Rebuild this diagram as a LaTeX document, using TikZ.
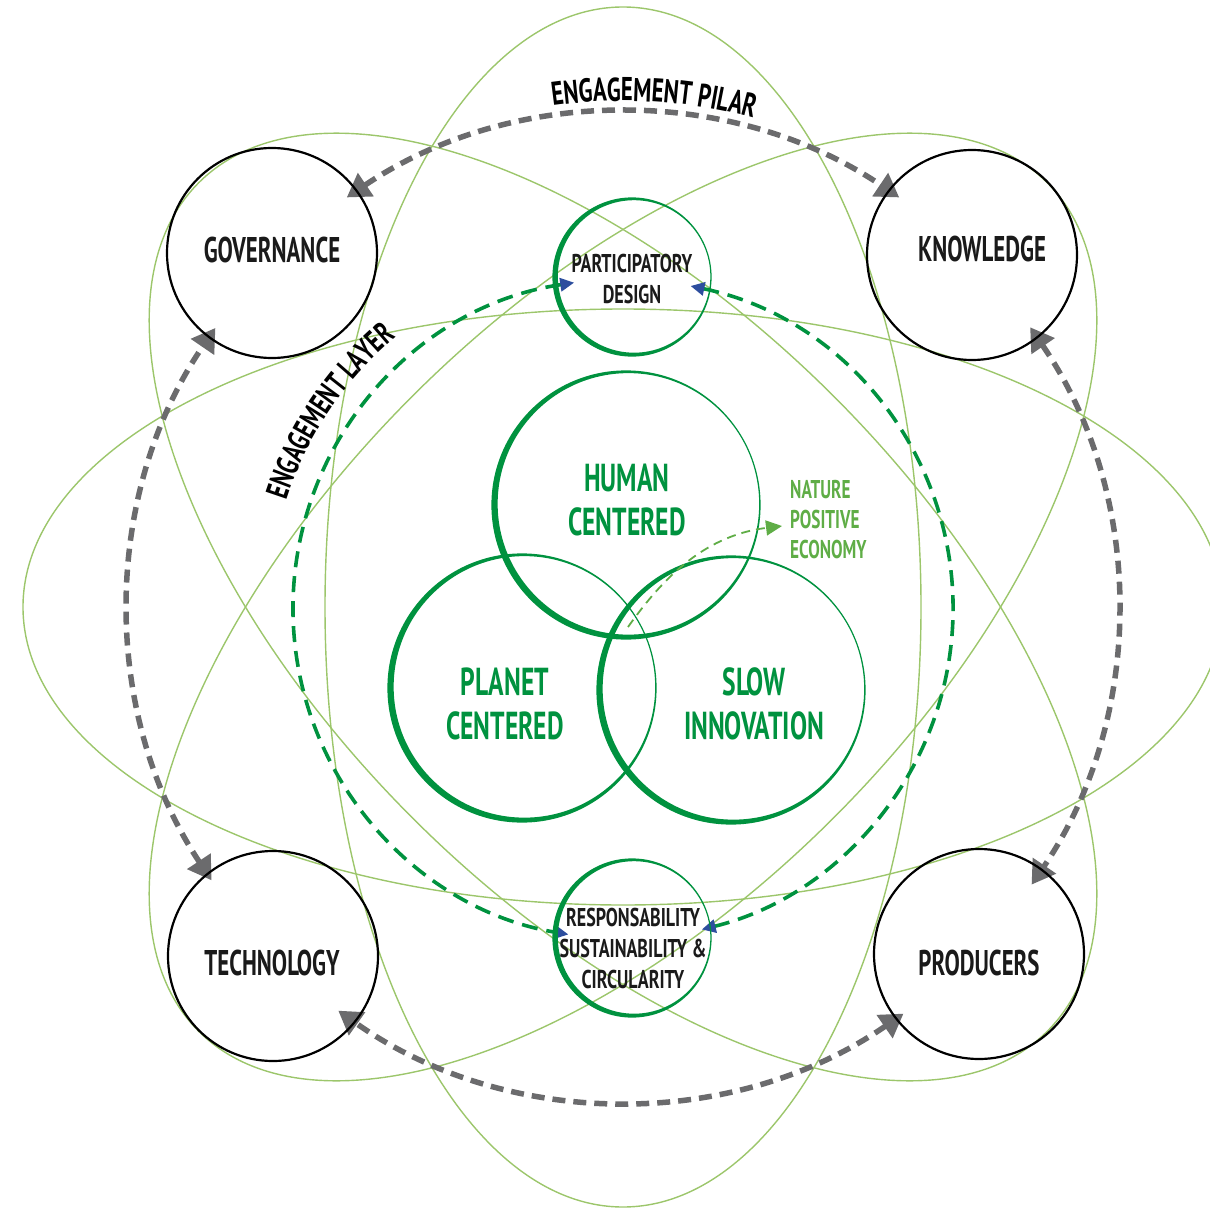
\documentclass[tikz,border=0pt]{standalone}
\usepackage{fontspec}
\setmainfont{PT Sans}
\newfontfamily\condA{PT Sans Bold}[FakeStretch=0.64]
\newfontfamily\condV{PT Sans Bold}[FakeStretch=0.655]
\newfontfamily\condS{PT Sans Bold}[FakeStretch=0.70]
\newfontfamily\condN{PT Sans Bold}[FakeStretch=0.67]
\newfontfamily\condE{PT Sans Bold}[FakeStretch=0.69]
\usetikzlibrary{arrows.meta,decorations.text}
\definecolor{lgreen}{HTML}{9CC66B}
\definecolor{dgreen}{HTML}{00923F}
\definecolor{ngreen}{HTML}{5FAD46}
\definecolor{pgray}{HTML}{6B6B6D}
\definecolor{ablue}{HTML}{2D4E9E}
\definecolor{ink}{HTML}{1A1A1A}
\newcommand{\fcirc}{\condA\fontsize{35.7}{40}\selectfont}
\newcommand{\fvenn}{\condV\fontsize{39}{44}\selectfont}
\newcommand{\fsmall}{\condS\fontsize{25.7}{31}\selectfont}
\newcommand{\fnat}{\condN\fontsize{25.7}{30}\selectfont}
\newcommand{\fpilar}{\condE\fontsize{33}{36}\selectfont}
\newcommand{\flayer}{\condE\fontsize{31.5}{34}\selectfont}
\newcommand{\brushring}[5]{%
  \fill[dgreen,even odd rule] (#1) circle[radius={#2+#4/2}]
    ([shift={(#5:{(#3-#4)/2})}]#1) circle[radius={#2-#4/2-(#3-#4)/2}];}
\begin{document}
\begin{tikzpicture}[x=1pt,y=-1pt,
  ell/.style={draw=lgreen,line width=1.4pt},
  hub/.style={circle,draw=black,line width=2.2pt,minimum size=210pt,inner sep=0pt},
  hubtext/.style={font=\fcirc,text=ink,inner sep=0pt},
  venntext/.style={font=\fvenn,text=dgreen,align=center,inner sep=0pt},
  smalltext/.style={font=\fsmall,text=ink,align=center,inner sep=0pt},
  nattext/.style={font=\fnat,text=ngreen,align=left,inner sep=8pt,anchor=west},
  pilar/.style={draw=pgray,line width=5.5pt,dash pattern=on 13pt off 8pt,
     {Triangle[length=23pt,width=27pt]}-{Triangle[length=23pt,width=27pt]}},
  layer/.style={draw=dgreen,line width=3.6pt,dash pattern=on 16pt off 9pt,
     {Triangle[color=ablue,length=14pt,width=13pt]}-{Triangle[color=ablue,length=14pt,width=13pt]}},
  natarrow/.style={draw=ngreen,line width=1.8pt,dash pattern=on 9pt off 6pt,
     -{Triangle[length=16pt,width=15pt]}},
]
\useasboundingbox (0,0) rectangle (1210,1209);
\clip (0,0) rectangle (1210,1209);
\coordinate (ctr) at (623,607);
\coordinate (lay) at (623,609);

% orbit ellipses
\foreach \a in {0,45,90,135}
  \draw[ell,rotate around={\a:(ctr)}] (ctr) ellipse[x radius=600,y radius=298];

% engagement layer (green dashed)
\draw[layer] (lay) ++(261.5:330) arc[start angle=261.5,end angle=99.5,radius=330];
\draw[layer] (lay) ++(-78.2:330) arc[start angle=-78.2,end angle=76.2,radius=330];

% engagement pilar (grey dashed)
\draw[pilar] (ctr) ++(-124:494) arc[start angle=-124,end angle=-56,radius=494];
\draw[pilar] (ctr) ++(-34.5:494) arc[start angle=-34.5,end angle=34.2,radius=494];
\draw[pilar] (ctr) ++(55.4:494) arc[start angle=55.4,end angle=125.2,radius=494];
\draw[pilar] (ctr) ++(146.4:494) arc[start angle=146.4,end angle=214.4,radius=494];

% curved labels
\path[decorate,decoration={text along path,text align=center,
   text={|\fpilar|ENGAGEMENT PILAR}}]
   (ctr) ++(-112:506) arc[start angle=-112,end angle=-61,radius=506];
\path[decorate,decoration={text along path,text align=center,
   text={|\flayer|ENGAGEMENT LAYER}}]
   (lay) ++(188:354) arc[start angle=188,end angle=240,radius=354];

% hubs
\node[hub] (gov) at (272,253) {};
\node[hub] (know) at (972,255) {};
\node[hub] (tech) at (273,956) {};
\node[hub] (prod) at (979,954) {};
\node[hubtext] (govt) at (272,250) {GOVERNANCE};
\node[hubtext] (knowt) at (982,249) {KNOWLEDGE};
\node[hubtext] (techt) at (272,963) {TECHNOLOGY};
\node[hubtext] (prodt) at (979,963) {PRODUCERS};

% small circles
\coordinate (pd) at (632,277);
\coordinate (rs) at (632,938);
\brushring{pd}{79}{5.5}{1.2}{-15}
\brushring{rs}{79}{5.5}{1.2}{-15}
\node[smalltext] (pdt) at (632,279) {PARTICIPATORY\\DESIGN};
\node[smalltext] (rst) at (633,948) {RESPONSABILITY\\SUSTAINABILITY \&\\CIRCULARITY};

% venn
\coordinate (hc) at (626,505);
\coordinate (pc) at (522,688);
\coordinate (sc) at (731,690);
\brushring{hc}{134}{6.5}{1.2}{-25}
\brushring{pc}{134}{6.5}{1.2}{-25}
\brushring{sc}{134}{6.5}{1.2}{-25}
\node[venntext] (human) at (627,500) {HUMAN\\CENTERED};
\node[venntext] (planet) at (505,704) {PLANET\\CENTERED};
\node[venntext] (slow) at (754,704) {SLOW\\INNOVATION};

% nature positive economy
\node[nattext] (nature) at (782,520) {NATURE\\POSITIVE\\ECONOMY};
\coordinate (natstart) at (628,627);
\draw[natarrow] (natstart) .. controls (658,585) and (700,536) .. ([yshift=-6pt]nature.west);
\end{tikzpicture}
\end{document}
